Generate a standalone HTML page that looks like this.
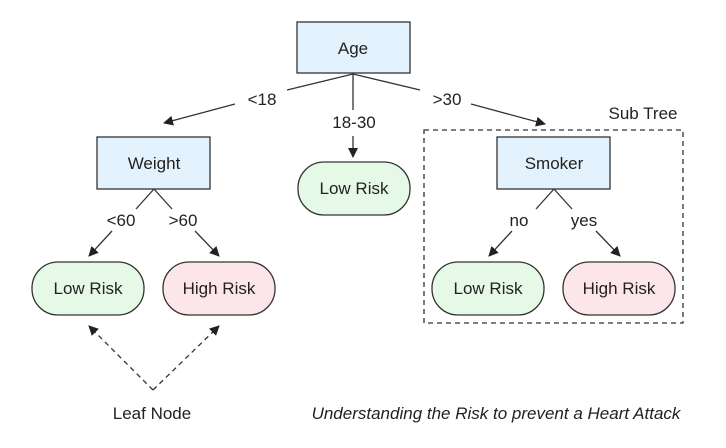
<!DOCTYPE html>
<html><head><meta charset="utf-8"><style>
html,body{margin:0;padding:0;background:#fff;}
svg{display:block;font-family:"Liberation Sans",sans-serif;}
</style></head><body>
<svg width="726" height="448" viewBox="0 0 726 448" xmlns="http://www.w3.org/2000/svg">
<defs>
<marker id="a" markerWidth="10" markerHeight="10" refX="9" refY="5" orient="auto" markerUnits="userSpaceOnUse">
<path d="M0,0 L10,5 L0,10 z" fill="#222"/></marker>
</defs>
<g stroke="#333" stroke-width="1.3" fill="none">
<line x1="353" y1="74" x2="287" y2="90"/>
<line x1="235" y1="104" x2="164" y2="123" marker-end="url(#a)"/>
<line x1="353" y1="74" x2="353" y2="110"/>
<line x1="353" y1="136" x2="353" y2="157" marker-end="url(#a)"/>
<line x1="353" y1="74" x2="420" y2="90"/>
<line x1="471" y1="104" x2="545" y2="124" marker-end="url(#a)"/>
<line x1="154" y1="189" x2="136" y2="209"/>
<line x1="112" y1="231" x2="89" y2="256" marker-end="url(#a)"/>
<line x1="154" y1="189" x2="172" y2="209"/>
<line x1="195" y1="231" x2="219" y2="256" marker-end="url(#a)"/>
<line x1="554" y1="189" x2="536" y2="209"/>
<line x1="512" y1="231" x2="489" y2="256" marker-end="url(#a)"/>
<line x1="554" y1="189" x2="572" y2="209"/>
<line x1="596" y1="231" x2="620" y2="256" marker-end="url(#a)"/>
<line x1="153" y1="390" x2="89" y2="326" stroke-dasharray="5,4" marker-end="url(#a)"/>
<line x1="153" y1="390" x2="219" y2="326" stroke-dasharray="5,4" marker-end="url(#a)"/>
<rect x="424" y="130" width="259" height="193" stroke-dasharray="5,4"/>
</g>
<g stroke="#333" stroke-width="1.3">
<rect x="297" y="22" width="113" height="51" fill="#e4f2fd"/>
<rect x="97" y="137" width="113" height="52" fill="#e4f2fd"/>
<rect x="497" y="137" width="113" height="52" fill="#e4f2fd"/>
<rect x="298" y="162" width="112" height="53" rx="26" fill="#e6f8e6"/>
<rect x="32" y="262" width="112" height="53" rx="26" fill="#e6f8e6"/>
<rect x="163" y="262" width="112" height="53" rx="26" fill="#fde6ea"/>
<rect x="432" y="262" width="112" height="53" rx="26" fill="#e6f8e6"/>
<rect x="563" y="262" width="112" height="53" rx="26" fill="#fde6ea"/>
</g>
<g fill="#222" font-size="17" text-anchor="middle">
<text x="353" y="54">Age</text>
<text x="154" y="169">Weight</text>
<text x="554" y="169">Smoker</text>
<text x="354" y="194">Low Risk</text>
<text x="88" y="294">Low Risk</text>
<text x="219" y="294">High Risk</text>
<text x="488" y="294">Low Risk</text>
<text x="619" y="294">High Risk</text>
<text x="262" y="105">&lt;18</text>
<text x="447" y="105">&gt;30</text>
<text x="354" y="128">18-30</text>
<text x="121" y="226">&lt;60</text>
<text x="183" y="226">&gt;60</text>
<text x="519" y="226">no</text>
<text x="584" y="226">yes</text>
<text x="643" y="119">Sub Tree</text>
<text x="152" y="419">Leaf Node</text>
<text x="496" y="419" font-style="italic">Understanding the Risk to prevent a Heart Attack</text>
</g>
</svg>
</body></html>
